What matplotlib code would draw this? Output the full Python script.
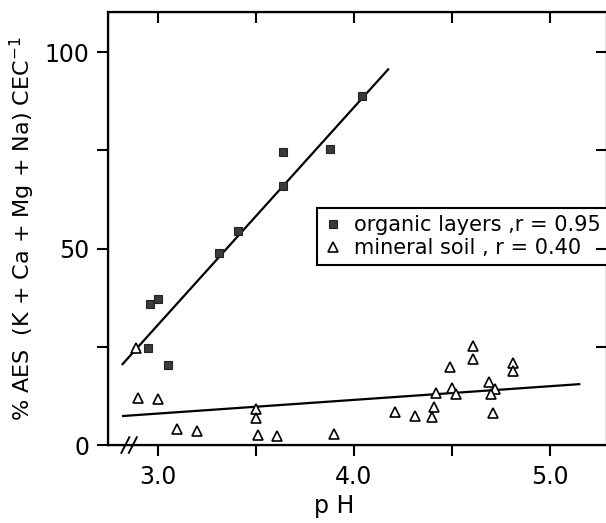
import numpy as np
import matplotlib
matplotlib.use("Agg")
import matplotlib.pyplot as plt

# organic layers (filled squares)
org_ph = [2.95, 2.96, 3.00, 3.05, 3.31, 3.41, 3.64, 3.64, 3.88, 4.04]
org_aes = [24.6, 35.8, 37.2, 20.4, 48.8, 54.5, 74.5, 66.0, 75.4, 88.8]

# mineral soil (open triangles)
min_ph = [2.89, 2.90, 3.00, 3.10, 3.20, 3.50, 3.50, 3.51, 3.61, 3.90,
          4.21, 4.31, 4.41, 4.40, 4.42, 4.49, 4.50, 4.52, 4.61, 4.61,
          4.69, 4.72, 4.70, 4.71, 4.81, 4.81]
min_aes = [24.8, 12.0, 11.7, 4.1, 3.7, 9.2, 6.9, 2.5, 2.3, 2.8,
           8.3, 7.5, 9.6, 7.1, 13.3, 19.9, 14.6, 13.0, 25.3, 21.8,
           16.0, 14.2, 12.9, 8.2, 20.9, 18.9]

# regression lines (end points)
org_fit_x = [2.82, 4.175]
org_fit_y = [20.6, 95.6]
min_fit_x = [2.823, 5.15]
min_fit_y = [7.4, 15.5]

xticks = [3.0, 3.5, 4.0, 4.5, 5.0]
xticklabels = ['3.0', '', '4.0', '', '5.0']
yticks = [0, 25, 50, 75, 100]
yticklabels = ['0', '', '50', '', '100']

plt.rcParams['font.family'] = ['DejaVu Sans']

fig = plt.figure(figsize=(6.06, 5.23), dpi=100)
ax = fig.add_axes([0.178, 0.149, 0.8234, 0.828])
xlim = (2.745, 5.291)
ylim = (0, 110.2)

ax.plot(org_fit_x, org_fit_y, color='black', lw=1.6)
ax.plot(min_fit_x, min_fit_y, color='black', lw=1.6)
ax.plot(org_ph, org_aes, 's', ms=6, mfc='#3a3a3a', mec='#222222', mew=0.8, ls='none',
        label='organic layers ,r = 0.95')
ax.plot(min_ph, min_aes, '^', ms=7.5, mfc='white', mec='black', mew=1.2, ls='none',
        label='mineral soil , r = 0.40')

ax.set_xlim(*xlim)
ax.set_ylim(*ylim)
ax.set_xticks(xticks)
ax.set_xticklabels(xticklabels)
ax.set_yticks(yticks)
ax.set_yticklabels(yticklabels)
ax.tick_params(direction='out', length=8, width=1.5, labelsize=17, pad=5)
ax.tick_params(axis='x', pad=6)
for s in ax.spines.values():
    s.set_linewidth(1.6)

# inward ticks on top and right
axt = ax.twiny()
axt.set_xlim(*xlim)
axt.set_xticks(xticks)
axt.tick_params(direction='in', length=8, width=1.5, labeltop=False)
axr = ax.twinx()
axr.set_ylim(*ylim)
axr.set_yticks(yticks[1:])
axr.tick_params(direction='in', length=8, width=1.5, labelright=False)

ax.set_xlabel('p H', fontsize=17)
ax.xaxis.set_label_coords(0.453, -0.112)
ax.set_ylabel('% AES  (K + Ca + Mg + Na) CEC$^{-1}$', fontsize=16)
ax.yaxis.set_label_coords(-0.142, 0.5)

# axis break mark
for dx in (0.035, 0.05):
    ax.plot([dx - 0.008, dx + 0.008], [-0.018, 0.018], transform=ax.transAxes,
            color='black', lw=1.4, clip_on=False)

leg = ax.legend(loc='upper left', bbox_to_anchor=(0.42, 0.548), fontsize=15,
                frameon=True, fancybox=False, edgecolor='black', framealpha=1,
                handlelength=0.8, handletextpad=0.6, borderpad=0.35,
                labelspacing=0.15, borderaxespad=0)
leg.get_frame().set_linewidth(1.5)
leg.set_zorder(5)

fig.savefig('out.png', dpi=100)
